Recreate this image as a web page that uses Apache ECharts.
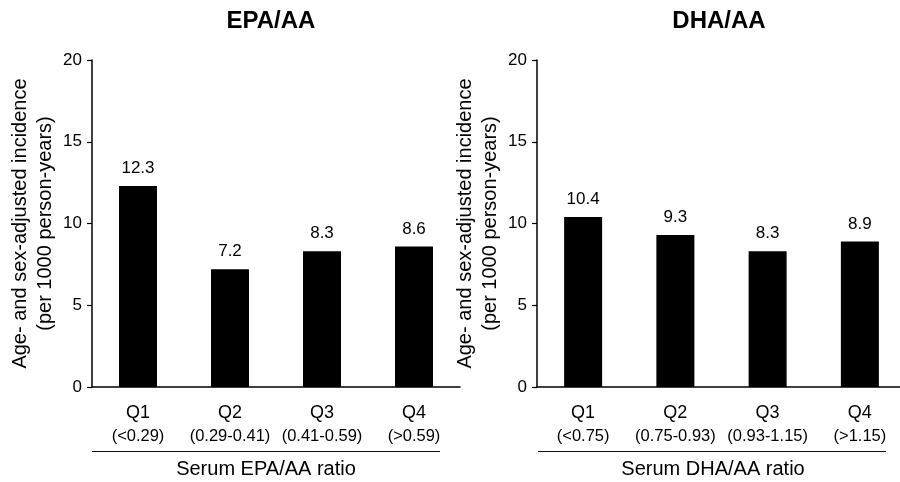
<!DOCTYPE html>
<html>
<head>
<meta charset="utf-8">
<title>Serum EPA/AA and DHA/AA ratio quartiles</title>
<script src="https://cdn.jsdelivr.net/npm/echarts@6/dist/echarts.min.js"></script>
<style>
  html, body { margin: 0; padding: 0; background: #fff; }
  #chart { width: 900px; height: 482px; }
</style>
</head>
<body>
<div id="chart"></div>
<script>
// Quartile categories and their ratio ranges
const quartiles = ['Q1', 'Q2', 'Q3', 'Q4'];
const epaRanges = ['(<0.29)', '(0.29-0.41)', '(0.41-0.59)', '(>0.59)'];
const dhaRanges = ['(<0.75)', '(0.75-0.93)', '(0.93-1.15)', '(>1.15)'];

// Age- and sex-adjusted incidence per 1000 person-years
const epaIncidence = [12.3, 7.2, 8.3, 8.6];
const dhaIncidence = [10.4, 9.3, 8.3, 8.9];

// Y axis range
const yMin = 0;
const yMax = 20;
const yStep = 5;

const FONT = '"Liberation Sans", Arial, Helvetica, sans-serif';
const INK = '#000';

const chart = echarts.init(document.getElementById('chart'), null, { renderer: 'canvas' });

function yAxisFor(gridIndex) {
  return {
    type: 'value',
    gridIndex: gridIndex,
    min: yMin,
    max: yMax,
    interval: yStep,
    name: 'Age- and sex-adjusted incidence\n(per 1000 person-years)',
    nameLocation: 'middle',
    nameRotate: 90,
    nameGap: 34,
    nameMoveOverlap: false,
    nameTextStyle: { fontFamily: FONT, fontSize: 20, lineHeight: 25, color: INK },
    axisLine: { show: true, lineStyle: { color: INK, width: 1.5 } },
    axisTick: { show: true, inside: false, length: 5, lineStyle: { color: INK, width: 1.2 } },
    axisLabel: { fontFamily: FONT, fontSize: 17, color: INK, margin: 10 },
    splitLine: { show: false }
  };
}

function xAxisFor(gridIndex, ranges, title, shift) {
  return {
    type: 'category',
    gridIndex: gridIndex,
    data: quartiles,
    boundaryGap: true,
    name: title,
    nameLocation: 'middle',
    nameGap: 71,
    nameMoveOverlap: false,
    nameTextStyle: {
      fontFamily: FONT, fontSize: 20, lineHeight: 22, color: INK,
      padding: [0, shift, 0, 0]
    },
    axisLine: { show: true, lineStyle: { color: INK, width: 1.5 } },
    axisTick: { show: false },
    axisLabel: {
      interval: 0,
      margin: 14,
      formatter: function (value, index) {
        return '{q|' + value + '}\n{r|' + ranges[index] + '}';
      },
      rich: {
        q: { fontFamily: FONT, fontSize: 18, lineHeight: 24, color: INK },
        r: { fontFamily: FONT, fontSize: 16.5, lineHeight: 22, color: INK }
      }
    },
    splitLine: { show: false }
  };
}

function barSeries(index, values) {
  return {
    type: 'bar',
    xAxisIndex: index,
    yAxisIndex: index,
    data: values,
    barWidth: 38,
    itemStyle: { color: INK },
    label: {
      show: true,
      position: 'top',
      distance: 9,
      fontFamily: FONT,
      fontSize: 17,
      color: INK,
      formatter: function (p) { return p.value.toFixed(1); }
    },
    emphasis: { disabled: true },
    silent: true
  };
}

const option = {
  backgroundColor: '#fff',
  animation: false,
  title: [
    {
      text: 'EPA/AA', left: 271, top: 9, textAlign: 'center', padding: 0,
      textStyle: { fontFamily: FONT, fontSize: 24, fontWeight: 'bold', color: INK, lineHeight: 24 }
    },
    {
      text: 'DHA/AA', left: 719, top: 9, textAlign: 'center', padding: 0,
      textStyle: { fontFamily: FONT, fontSize: 24, fontWeight: 'bold', color: INK, lineHeight: 24 }
    }
  ],
  grid: [
    { left: 92, top: 60, width: 368, height: 327, containLabel: false, outerBoundsMode: 'none' },
    { left: 537, top: 60, width: 369, height: 327, containLabel: false, outerBoundsMode: 'none' }
  ],
  xAxis: [
    xAxisFor(0, epaRanges, 'Serum EPA/AA ratio', 20),
    xAxisFor(1, dhaRanges, 'Serum DHA/AA ratio', 17)
  ],
  yAxis: [yAxisFor(0), yAxisFor(1)],
  series: [
    barSeries(0, epaIncidence),
    barSeries(1, dhaIncidence)
  ],
  // Rules under the range labels, grouping them with the axis titles
  graphic: [
    {
      type: 'line', silent: true,
      shape: { x1: 92, y1: 451.5, x2: 440, y2: 451.5 },
      style: { stroke: '#111', lineWidth: 1 }
    },
    {
      type: 'line', silent: true,
      shape: { x1: 538, y1: 451.5, x2: 886, y2: 451.5 },
      style: { stroke: '#111', lineWidth: 1 }
    }
  ]
};

chart.setOption(option);
</script>
</body>
</html>
